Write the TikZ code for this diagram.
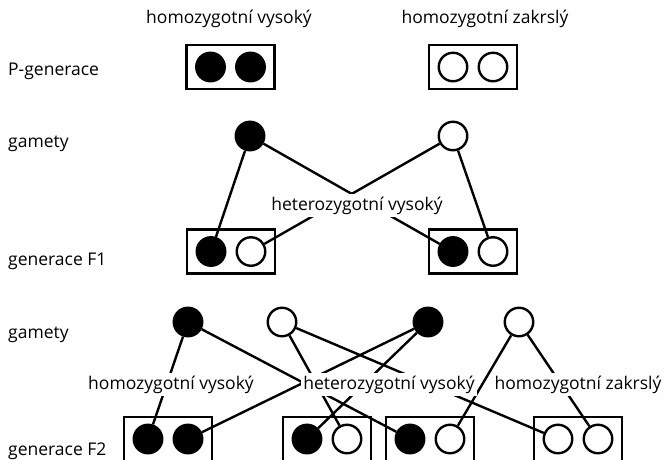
\documentclass[tikz,border=0pt]{standalone}
\usepackage{fontspec}
\setmainfont{Open Sans}
\usetikzlibrary{positioning}

\begin{document}
\begin{tikzpicture}[x=1pt,y=-1pt,
    full/.style={circle,draw,fill=black,line width=2.4pt,minimum size=28.5pt,inner sep=0pt},
    empty/.style={circle,draw,fill=white,line width=2.4pt,minimum size=28.5pt,inner sep=0pt},
    pair/.style={rectangle,draw,line width=2.6pt,minimum width=88pt,minimum height=44pt},
    txt/.style={fill=white,inner sep=2.5pt,anchor=base,font=\fontsize{17.5}{20}\selectfont},
    row/.style={inner sep=0pt,anchor=base west,font=\fontsize{17.5}{20}\selectfont},
    link/.style={line width=2.4pt}]
    \useasboundingbox (0,0) rectangle (667,459);

    % row captions
    \node[row] (rp) at (8,75) {P-generace};
    \node[row] (rg1) at (8,147) {gamety};
    \node[row] (rf1) at (8,265) {generace F1};
    \node[row] (rg2) at (8,338) {gamety};
    \node[row] (rf2) at (8,455) {generace F2};

    % P generation
    \node[pair] (p1) at (230.5,67) {};
    \node[full] (p1a) at ([xshift=-20pt]p1.center) {};
    \node[full] (p1b) at ([xshift=20pt]p1.center) {};
    \node[pair] (p2) at (473,67) {};
    \node[empty] (p2a) at ([xshift=-20pt]p2.center) {};
    \node[empty] (p2b) at ([xshift=20pt]p2.center) {};

    % gametes
    \node[full] (g1) at (250,136) {};
    \node[empty] (g2) at (453,136) {};

    % F1 generation
    \node[pair] (f1) at (231,251.5) {};
    \node[full] (f1a) at ([xshift=-20pt]f1.center) {};
    \node[empty] (f1b) at ([xshift=20pt]f1.center) {};
    \node[pair] (f2) at (473,251.5) {};
    \node[full] (f2a) at ([xshift=-20pt]f2.center) {};
    \node[empty] (f2b) at ([xshift=20pt]f2.center) {};

    % gametes of F1
    \node[full] (h1) at (188,322) {};
    \node[empty] (h2) at (282,322) {};
    \node[full] (h3) at (428,322) {};
    \node[empty] (h4) at (519,322) {};

    % F2 generation
    \node[pair] (q1) at (168,439) {};
    \node[full] (q1a) at ([xshift=-20pt]q1.center) {};
    \node[full] (q1b) at ([xshift=20pt]q1.center) {};
    \node[pair] (q2) at (327,439) {};
    \node[full] (q2a) at ([xshift=-20pt]q2.center) {};
    \node[empty] (q2b) at ([xshift=20pt]q2.center) {};
    \node[pair] (q3) at (430,439) {};
    \node[full] (q3a) at ([xshift=-20pt]q3.center) {};
    \node[empty] (q3b) at ([xshift=20pt]q3.center) {};
    \node[pair] (q4) at (578,439) {};
    \node[empty] (q4a) at ([xshift=-20pt]q4.center) {};
    \node[empty] (q4b) at ([xshift=20pt]q4.center) {};

    \draw[link] (g1) -- (f1a);
    \draw[link] (g1) -- (f2a);
    \draw[link] (g2) -- (f1b);
    \draw[link] (g2) -- (f2b);

    \draw[link] (h1) -- (q1a);
    \draw[link] (h1) -- (q3a);
    \draw[link] (h2) -- (q2b);
    \draw[link] (h2) -- (q4a);
    \draw[link] (h3) -- (q1b);
    \draw[link] (h3) -- (q2a);
    \draw[link] (h4) -- (q3b);
    \draw[link] (h4) -- (q4b);

    % genotype captions
    \node[txt] (tp1) at (229,23) {homozygotní vysoký};
    \node[txt] (tp2) at (485,23) {homozygotní zakrslý};
    \node[txt] (tf1) at (357,210) {heterozygotní vysoký};
    \node[txt] (tq1) at (171,389) {homozygotní vysoký};
    \node[txt] (tq2) at (389,389) {heterozygotní vysoký};
    \node[txt] (tq3) at (578,389) {homozygotní zakrslý};
\end{tikzpicture}
\end{document}
